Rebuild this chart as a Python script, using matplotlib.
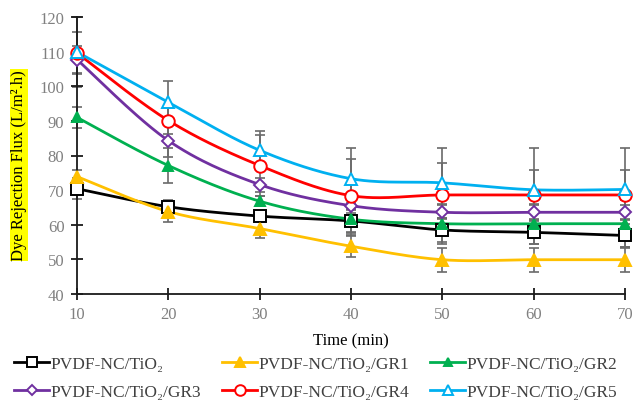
import numpy as np
import matplotlib
matplotlib.use("Agg")
import matplotlib.pyplot as plt
from matplotlib.lines import Line2D

plt.rcParams['font.family'] = ['Liberation Serif', 'DejaVu Serif']

# ---- data ----
time = [10, 20, 30, 40, 50, 60, 70]
labels = ["PVDF-NC/TiO\u2082", "PVDF-NC/TiO\u2082/GR1", "PVDF-NC/TiO\u2082/GR2",
          "PVDF-NC/TiO\u2082/GR3", "PVDF-NC/TiO\u2082/GR4", "PVDF-NC/TiO\u2082/GR5"]
tio2 = [70.4, 65.2, 62.5, 61.1, 58.5, 57.8, 56.9]
gr1 = [73.9, 63.8, 58.9, 53.8, 49.9, 49.9, 49.9]
gr2 = [91.0, 77.1, 66.8, 61.6, 60.3, 60.3, 60.3]
gr3 = [107.7, 84.3, 71.6, 65.5, 63.6, 63.6, 63.6]
gr4 = [109.6, 90.1, 77.1, 68.4, 68.6, 68.6, 68.6]
gr5 = [109.9, 95.4, 81.5, 73.3, 72.1, 70.1, 70.2]
err_tio2 = [3.0, 2.0, 1.5, 3.4, 3.5, 3.3, 3.4]
err_gr1 = [2.0, 3.0, 2.7, 3.2, 3.5, 3.5, 3.5]
err_gr2 = [3.0, 5.0, 1.5, 4.8, 5.8, 5.8, 6.8]
err_gr3 = [4.0, 4.8, 2.0, 2.0, 2.0, 2.0, 2.0]
err_gr4 = [6.0, 4.0, 8.9, 10.6, 9.3, 7.3, 7.3]
err_gr5 = [10.0, 6.0, 5.7, 8.9, 10.1, 12.1, 12.0]

series = [tio2, gr1, gr2, gr3, gr4, gr5]
errs = [err_tio2, err_gr1, err_gr2, err_gr3, err_gr4, err_gr5]
colors = ["#000000", "#FFC000", "#00B050", "#7030A0", "#FF0000", "#00B0F0"]
markers = ["s", "^", "^", "D", "o", "^"]
mfaces = ["white", "#FFC000", "#00B050", "white", "white", "white"]
msizes = [8.5, 8.5, 7.5, 6.5, 9, 9]


def smooth(x, y, n=30):
    x = np.asarray(x, float)
    y = np.asarray(y, float)
    px = np.concatenate([[x[0]], x, [x[-1]]])
    py = np.concatenate([[y[0]], y, [y[-1]]])
    xs, ys = [], []
    t = np.linspace(0, 1, n)
    for i in range(1, len(px) - 2):
        p0 = np.array([px[i - 1], py[i - 1]])
        p1 = np.array([px[i], py[i]])
        p2 = np.array([px[i + 1], py[i + 1]])
        p3 = np.array([px[i + 2], py[i + 2]])
        c1 = p1 + (p2 - p0) / 6.0
        c2 = p2 - (p3 - p1) / 6.0
        b = ((1 - t) ** 3)[:, None] * p1 + (3 * (1 - t) ** 2 * t)[:, None] * c1 + \
            (3 * (1 - t) * t ** 2)[:, None] * c2 + (t ** 3)[:, None] * p2
        xs.append(b[:, 0])
        ys.append(b[:, 1])
    return np.concatenate(xs), np.concatenate(ys)


fig = plt.figure(figsize=(6.33, 4.06), dpi=100)
ax = fig.add_axes([77 / 633, 1 - 295 / 406, 548 / 633, 277 / 406])

for y, e in zip(series, errs):
    ax.errorbar(time, y, yerr=e, fmt='none', ecolor='#6a6a6a', elinewidth=1.2,
                capsize=3.5, capthick=1.2, zorder=1, clip_on=False)

handles = []
for y, c, m, mf, ms, lab in zip(series, colors, markers, mfaces, msizes, labels):
    sx, sy = smooth(time, y)
    ax.plot(sx, sy, color=c, lw=2, zorder=2, clip_on=False)
    ax.plot(time, y, linestyle='none', marker=m, markersize=ms, markerfacecolor=mf,
            markeredgecolor=c, markeredgewidth=1.4, zorder=3, clip_on=False)
    handles.append(Line2D([], [], color=c, lw=2, marker=m, markersize=ms * 0.85,
                          markerfacecolor=mf, markeredgecolor=c, markeredgewidth=1.4,
                          label=lab))

ax.set_xlim(10, 70)
ax.set_ylim(40, 120)
ax.set_xticks(time)
ax.set_yticks(np.arange(40, 121, 10))
for s in ['top', 'right']:
    ax.spines[s].set_visible(False)
for s in ['left', 'bottom']:
    ax.spines[s].set_color('#1a1a1a')
    ax.spines[s].set_linewidth(1.3)
ax.tick_params(axis='both', direction='inout', length=8, width=1.3, color='#1a1a1a',
               labelcolor='#808080', labelsize=12)
ax.tick_params(axis='x', pad=5)
ax.tick_params(axis='y', pad=5)

fig.text(351 / 633, 1 - 341 / 406, "Time (min)", ha='center', va='center', fontsize=12,
         color='black')
fig.text(19 / 633, 1 - 166 / 406, "Dye Rejection Flux (L/m\u00b2.h)", rotation=90,
         ha='center', va='center', fontsize=12, color='black',
         bbox=dict(facecolor='#FFFF00', edgecolor='none', pad=0.5))

# legend order row-major (matplotlib fills column-major)
order = [0, 3, 1, 4, 2, 5]
fig.legend(handles=[handles[i] for i in order], ncol=3, loc='center',
           bbox_to_anchor=(316 / 633, 1 - 379 / 406),
           frameon=False, fontsize=12.5, handlelength=2.0, handletextpad=0.1,
           columnspacing=1.2, labelspacing=0.7, labelcolor='#404040')

fig.savefig("out.png", dpi=100)
